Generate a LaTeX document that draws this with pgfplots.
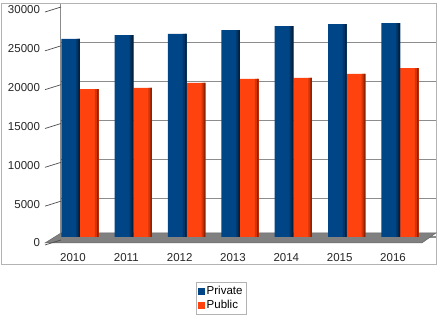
\documentclass[border=0pt]{standalone}
\usepackage{pgfplots}
\pgfplotsset{compat=1.18}
\usepackage{fontspec}
\setmainfont{Liberation Sans}
\definecolor{pblue}{HTML}{004586}
\definecolor{pbluemid}{HTML}{003566}
\definecolor{pbluedark}{HTML}{00213F}
\definecolor{porange}{HTML}{FF420E}
\definecolor{porangemid}{HTML}{D43508}
\definecolor{porangedark}{HTML}{8F2300}
\definecolor{gridc}{HTML}{8C8C8C}
\definecolor{framec}{HTML}{B3B3B3}
\definecolor{floorc}{HTML}{808080}
\pgfplotstableread{
x private public
0 25500 19050
1 26000 19200
2 26150 19850
3 26650 20350
4 27150 20500
5 27400 21000
6 27550 21750
}\datatable
\begin{document}
\fontsize{11.5bp}{13.8bp}\selectfont
\begin{tikzpicture}
\path[use as bounding box] (0,0) rectangle (444bp,-323bp);
\draw[framec, line width=0.8bp] (1.5bp,-3.5bp) rectangle (436bp,-264.5bp);
\begin{axis}[
  at={(61bp,-243.2bp)}, anchor=south west,
  scale only axis, width=375bp, height=239.2bp,
  xmin=-0.356, xmax=6.675, ymin=-800, ymax=30000,
  axis line style={draw=none},
  xtick={0,1,2,3,4,5,6},
  xticklabels={2010,2011,2012,2013,2014,2015,2016},
  ytick={0,5000,10000,15000,20000,25000},
  extra y ticks={30000},
  extra y tick style={grid=none},
  major tick length=0pt,
  ymajorgrids,
  grid style={gridc, line width=1.2bp},
  clip=false,
  scaled y ticks=false,
  /pgf/number format/1000 sep={},
  /pgf/number format/assume math mode=true,
  tick label style={font=\fontsize{11.5bp}{13.8bp}\selectfont, text=black!85},
  yticklabel style={anchor=east, xshift=-17bp, yshift=-6bp},
  xticklabel style={anchor=north, xshift=-7bp, yshift=-6bp},
  legend style={at={(0.427,-0.162)}, anchor=north, draw=framec,
    font=\fontsize{11.5bp}{13.8bp}\selectfont, inner sep=2bp, row sep=0pt,
    /tikz/every even column/.append style={column sep=2bp}},
  legend cell align=left,
]
% floor
\addplot[fill=floorc, draw=black!60, line width=0.5bp, forget plot]
  coordinates {(-0.656,-772) (6.41,-772) (6.675,515) (-0.356,515)} -- cycle;
% left wall line
\draw[gridc, line width=1bp] (axis cs:-0.356,515) -- (axis cs:-0.356,30000);
\pgfplotsinvokeforeach{0,5000,10000,15000,20000,25000,30000}{
  \draw[black!70, line width=0.7bp] (axis cs:-0.656,#1-1030) -- (axis cs:-0.356,#1-386);
}
\addplot[ybar, bar width=0.35, bar shift=-0.175, draw=none, fill=pblue,
  legend image code/.code={\fill[pblue] (0bp,-3.5bp) rectangle (7bp,3.5bp);}]
  table[x=x, y=private] {\datatable};
\addlegendentry{Private}
\addplot[ybar, bar width=0.35, bar shift=0.175, draw=none, fill=porange,
  legend image code/.code={\fill[porange] (0bp,-3.5bp) rectangle (7bp,3.5bp);}]
  table[x=x, y=public] {\datatable};
\addlegendentry{Public}
% cylinder edge shading
\addplot[ybar, bar width=0.07, bar shift=-0.035, draw=none, fill=pbluemid, forget plot]
  table[x=x, y=private] {\datatable};
\addplot[ybar, bar width=0.03, bar shift=-0.015, draw=none, fill=pbluedark, forget plot]
  table[x=x, y=private] {\datatable};
\addplot[ybar, bar width=0.07, bar shift=0.315, draw=none, fill=porangemid, forget plot]
  table[x=x, y=public] {\datatable};
\addplot[ybar, bar width=0.03, bar shift=0.335, draw=none, fill=porangedark, forget plot]
  table[x=x, y=public] {\datatable};
\end{axis}
\end{tikzpicture}
\end{document}
